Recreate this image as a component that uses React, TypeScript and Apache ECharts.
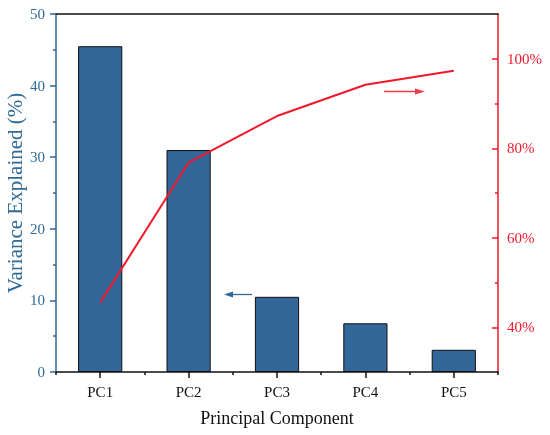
import React, { useEffect, useRef } from "react";
import * as echarts from "echarts";

const categories = ["PC1", "PC2", "PC3", "PC4", "PC5"];
const variance = [45.5, 31.0, 10.5, 6.8, 3.1];
const cumulative = [45.5, 76.8, 87.2, 94.2, 97.3];
const rightMajor = [40, 60, 80, 100];
const rightMinor = [50, 70, 90];

const FONT = "'Liberation Serif', 'Times New Roman', serif";
const BLUE = "#336699";
const BLUE_TXT = "#2f6a96";
const RED = "#f2182b";

export default function App() {
  const ref = useRef<HTMLDivElement>(null);
  useEffect(() => {
    if (!ref.current) return;
    const chart = echarts.init(ref.current, undefined, { renderer: "svg" });
    chart.setOption({
      animation: false,
      grid: { left: 56, right: 52, top: 14, bottom: 63, containLabel: false, outerBoundsMode: "none" },
      xAxis: [
        {
          type: "category",
          data: categories,
          position: "bottom",
          name: "Principal Component",
          nameLocation: "middle",
          nameGap: 37,
          nameTextStyle: { fontFamily: FONT, fontSize: 18, color: "#111" },
          axisLine: { lineStyle: { color: "#111", width: 1.5 } },
          axisTick: { show: true, alignWithLabel: false, length: 3, lineStyle: { color: "#111", width: 1.5 } },
          axisLabel: { fontFamily: FONT, fontSize: 15, color: "#111", margin: 12 },
          splitLine: { show: false },
        },
        {
          type: "category",
          data: categories,
          position: "bottom",
          axisLine: { show: false },
          axisTick: { show: true, alignWithLabel: true, length: 6, lineStyle: { color: "#111", width: 1.5 } },
          axisLabel: { show: false },
          splitLine: { show: false },
        },
        {
          type: "category",
          data: categories,
          position: "top",
          axisLine: { lineStyle: { color: "#111", width: 1.5 } },
          axisTick: { show: false },
          axisLabel: { show: false },
          splitLine: { show: false },
        },
      ],
      yAxis: [
        {
          type: "value",
          min: 0,
          max: 50,
          interval: 10,
          position: "left",
          name: "Variance Explained (%)",
          nameLocation: "middle",
          nameGap: 31,
          nameMoveOverlap: false,
          nameTextStyle: { fontFamily: FONT, fontSize: 21, color: BLUE_TXT },
          axisLine: { show: true, lineStyle: { color: BLUE, width: 1.5 } },
          axisTick: { show: true, length: 6, lineStyle: { color: BLUE, width: 1.5 } },
          minorTick: { show: true, splitNumber: 2, length: 3, lineStyle: { color: BLUE, width: 1.5 } },
          axisLabel: { fontFamily: FONT, fontSize: 15, color: BLUE_TXT, margin: 11 },
          splitLine: { show: false },
          minorSplitLine: { show: false },
        },
        {
          type: "value",
          min: 30,
          max: 110,
          position: "right",
          axisLine: { show: true, lineStyle: { color: RED, width: 1.5 } },
          axisTick: { show: true, inside: true, length: 6, customValues: rightMajor, lineStyle: { color: RED, width: 1.5 } },
          axisLabel: {
            fontFamily: FONT,
            fontSize: 15,
            color: RED,
            margin: 9,
            customValues: rightMajor,
            formatter: (v: number) => v + "%",
          },
          splitLine: { show: false },
        },
        {
          type: "value",
          min: 30,
          max: 110,
          position: "right",
          axisLine: { show: false },
          axisTick: { show: true, inside: true, length: 3, customValues: rightMinor, lineStyle: { color: RED, width: 1.5 } },
          axisLabel: { show: false, customValues: rightMinor },
          splitLine: { show: false },
        },
      ],
      series: [
        {
          type: "bar",
          data: variance,
          xAxisIndex: 0,
          yAxisIndex: 0,
          barWidth: "50%",
          itemStyle: { color: BLUE, borderColor: "#111", borderWidth: 1 },
        },
        {
          type: "line",
          data: cumulative,
          xAxisIndex: 0,
          yAxisIndex: 1,
          showSymbol: false,
          symbol: "none",
          lineStyle: { color: RED, width: 2 },
          z: 5,
        },
      ],
      graphic: [
        { type: "line", shape: { x1: 252, y1: 294.5, x2: 230, y2: 294.5 }, style: { stroke: BLUE, lineWidth: 1.3 } },
        { type: "polygon", shape: { points: [[224, 294.5], [233, 291.5], [233, 297.5]] }, style: { fill: BLUE } },
        { type: "line", shape: { x1: 384, y1: 91.5, x2: 418, y2: 91.5 }, style: { stroke: "#ee3b4a", lineWidth: 1.3 } },
        { type: "polygon", shape: { points: [[425, 91.5], [415, 88.5], [415, 94.5]] }, style: { fill: "#ee3b4a" } },
      ],
    });
    return () => chart.dispose();
  }, []);
  return <div ref={ref} style={{ position: "fixed", left: 0, top: 0, width: 550, height: 435 }} />;
}
